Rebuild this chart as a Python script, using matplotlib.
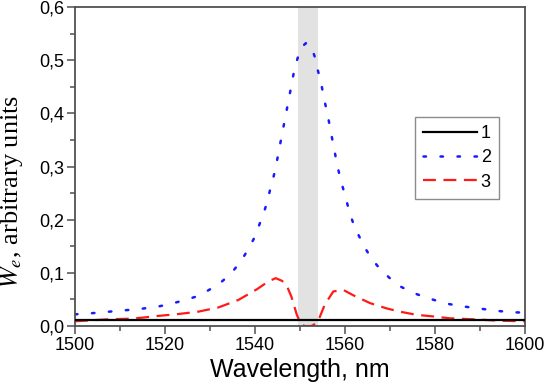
import numpy as np
import matplotlib.pyplot as plt
from matplotlib.ticker import MultipleLocator, FuncFormatter

plt.rcParams['font.family'] = ['Liberation Sans', 'DejaVu Sans']
plt.rcParams['mathtext.fontset'] = 'stix'

# curve 1 (black, solid)
wl1 = [1500, 1525, 1550, 1575, 1600]
w1 = [0.0105, 0.0105, 0.0105, 0.0105, 0.0105]

# curve 2 (blue, dotted)
wl2 = [1500, 1503.6, 1506.3, 1508.9, 1511.6, 1514.4, 1518.7, 1521.4, 1524.1,
       1526.8, 1529.4, 1532, 1534.6, 1536.8, 1538.4, 1539.8, 1540.8, 1541.8,
       1542.7, 1543.4, 1544.1, 1544.7, 1545.2, 1545.7, 1546.2, 1546.7, 1547.2,
       1547.7, 1548.2, 1548.7, 1549.4, 1550.3, 1551.3, 1552.4, 1553.3, 1553.9,
       1554.6, 1555.1, 1555.6, 1556.2, 1556.7, 1557.2, 1557.7, 1558.2, 1558.8,
       1559.5, 1560.2, 1560.9, 1561.8, 1562.9, 1564.1, 1565.8, 1567.8, 1570.6,
       1572.4, 1575, 1577.8, 1580.6, 1583.3, 1586.1, 1588.8, 1591.6, 1594.4,
       1597.2, 1600]
w2 = [0.022, 0.024, 0.026, 0.028, 0.030, 0.032, 0.037, 0.042, 0.048,
      0.055, 0.066, 0.079, 0.098, 0.121, 0.143, 0.165, 0.187, 0.209,
      0.233, 0.258, 0.280, 0.302, 0.325, 0.347, 0.369, 0.391, 0.413,
      0.435, 0.458, 0.480, 0.502, 0.524, 0.532, 0.528, 0.506, 0.483,
      0.461, 0.439, 0.418, 0.395, 0.372, 0.350, 0.328, 0.306, 0.283,
      0.261, 0.240, 0.217, 0.194, 0.173, 0.152, 0.128, 0.107, 0.085,
      0.074, 0.063, 0.054, 0.047, 0.041, 0.037, 0.034, 0.031, 0.028,
      0.026, 0.025]

# curve 3 (red, dashed)
wl3 = [1500, 1502.2, 1507.4, 1511.9, 1514.8, 1518.5, 1523, 1527.4, 1531.9,
       1536.3, 1540.4, 1543, 1544.6, 1546, 1547, 1548.1, 1549.3, 1550.2,
       1551, 1552.5, 1553.4, 1554.1, 1555.5, 1557.4, 1559.6, 1561.8, 1565.6,
       1569.3, 1572.2, 1575.9, 1579.6, 1583.3, 1588.5, 1594.4, 1600]
w3 = [0.009, 0.010, 0.0126, 0.0137, 0.0156, 0.019, 0.0226, 0.027, 0.035,
      0.049, 0.069, 0.084, 0.090, 0.085, 0.077, 0.055, 0.021, 0.004,
      0.0, 0.0, 0.004, 0.011, 0.040, 0.065, 0.068, 0.058, 0.043,
      0.033, 0.027, 0.021, 0.018, 0.0145, 0.0126, 0.010, 0.009]

band = (1549.5, 1554.0)

fig = plt.figure(figsize=(5.45, 3.91), dpi=100)
ax = fig.add_axes([0.1376, 0.1662, 0.8257, 0.8158])

ax.axvspan(band[0], band[1], color='#e2e2e2', lw=0, zorder=0)
ax.plot(wl1, w1, color='black', lw=1.6, label='1', zorder=3)
ax.plot(wl2, w2, color='#1a1aff', lw=1.8, ls=(0, (1, 5.8)),
        dash_capstyle='round', label='2', zorder=2)
ax.plot(wl3, w3, color='#ff1a1a', lw=1.6, ls=(0, (5.8, 3.4)), label='3',
        zorder=2)

ax.set_xlim(1500, 1600)
ax.set_ylim(0, 0.6)
ax.xaxis.set_major_locator(MultipleLocator(20))
ax.xaxis.set_minor_locator(MultipleLocator(10))
ax.yaxis.set_major_locator(MultipleLocator(0.1))
ax.yaxis.set_minor_locator(MultipleLocator(0.05))
ax.yaxis.set_major_formatter(FuncFormatter(lambda v, p: f"{v:.1f}".replace('.', ',')))

for s in ax.spines.values():
    s.set_color('#505050')
    s.set_linewidth(1.3)
ax.tick_params(which='both', direction='out', color='#505050', width=1.1,
               labelsize=13, top=False, right=False)
ax.tick_params(which='major', length=6, pad=2)
ax.tick_params(which='minor', length=3.5)

ax.set_xlabel('Wavelength, nm', fontsize=18)
ax.xaxis.set_label_coords(0.5, -0.1)
ax.set_ylabel('$W_e$, arbitrary units', fontsize=19, family='Liberation Serif')
ax.yaxis.set_label_coords(-0.11, 0.42)

leg = ax.legend(loc='upper left', bbox_to_anchor=(0.755, 0.655), fontsize=13,
                frameon=True, fancybox=False, handlelength=3.0,
                handletextpad=0.2, labelspacing=0.4, borderpad=0.45,
                borderaxespad=0)
leg.get_frame().set_edgecolor('#707070')
leg.get_frame().set_linewidth(1.0)

fig.savefig('out.png', dpi=100)
